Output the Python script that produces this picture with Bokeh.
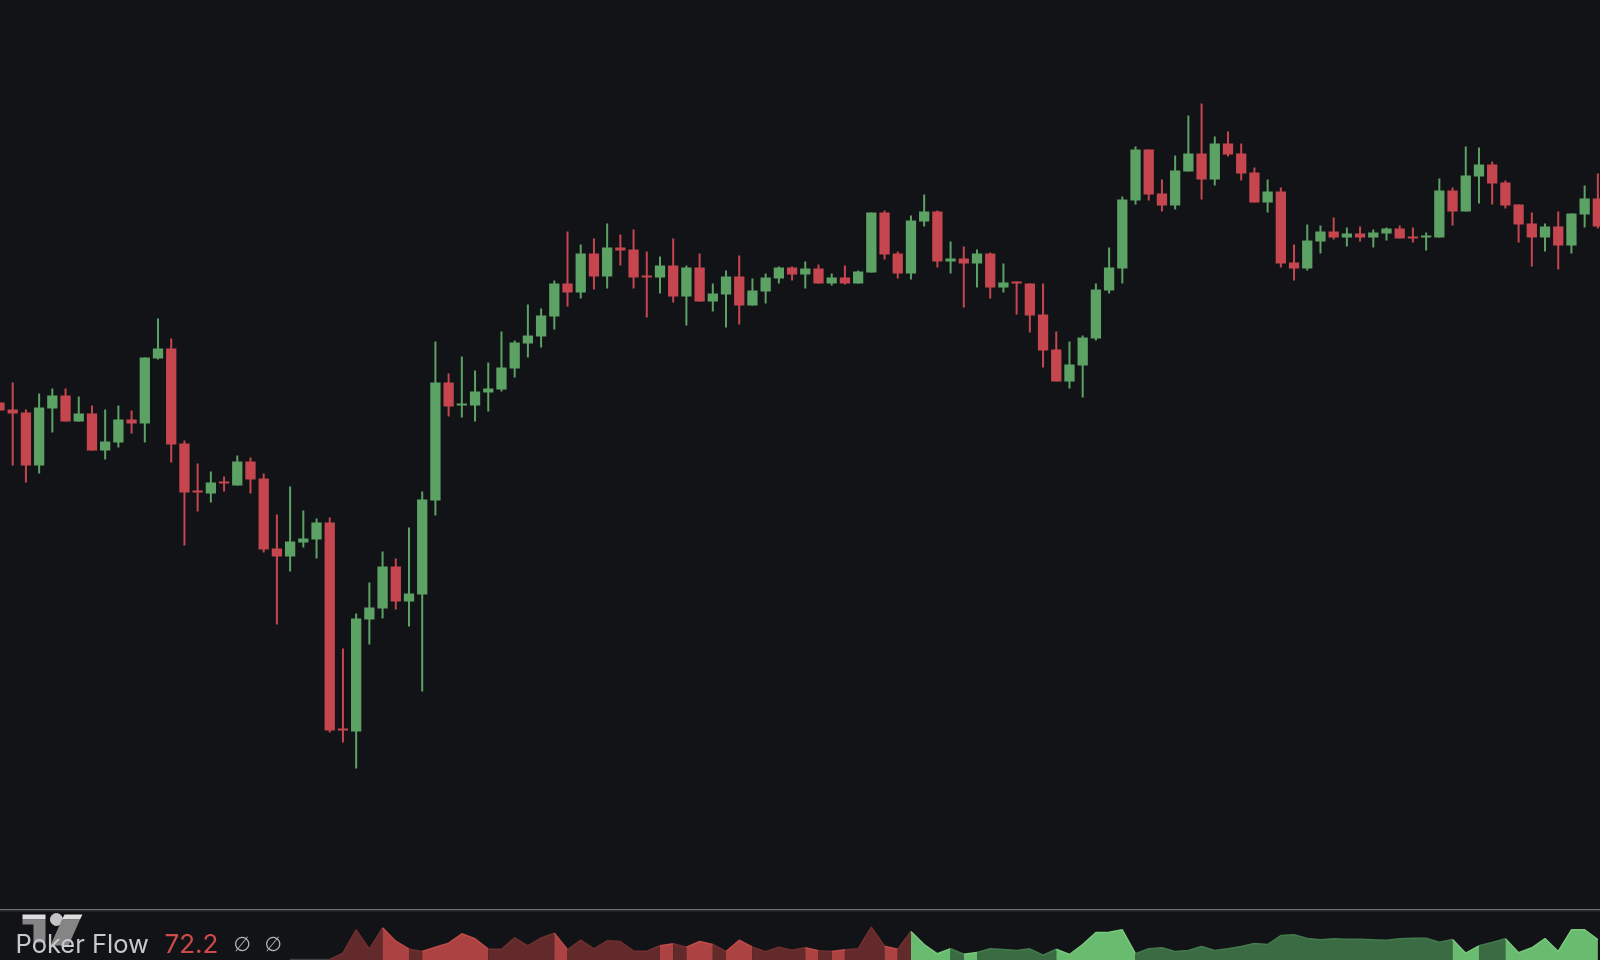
from bokeh.embed import file_html
from bokeh.layouts import column
from bokeh.models import ColumnDataSource, Label, PolyAnnotation, Range1d, Span
from bokeh.plotting import figure
from bokeh.resources import INLINE

opens = [598, 591, 588, 535, 592, 605, 579, 587, 550, 558, 581, 577, 642, 652, 557, 510, 507, 519, 515, 539,
         522, 452, 444, 458, 461, 478, 272, 269, 381, 392, 434, 399, 406, 500, 618, 595, 595, 608, 611, 632,
         657, 664, 684, 717, 708, 747, 724, 753, 751, 725, 723, 735, 704, 733, 699, 706, 724, 695, 709, 722,
         733, 726, 732, 717, 723, 717, 728, 788, 747, 727, 779, 789, 739, 742, 737, 747, 713, 719, 717, 686,
         651, 619, 635, 662, 710, 732, 800, 851, 807, 795, 829, 847, 821, 857, 847, 828, 798, 809, 738, 732,
         759, 769, 763, 767, 763, 767, 772, 764, 763, 763, 810, 789, 824, 836, 818, 796, 777, 763, 774, 755,
         786, 802]
highs = [598, 618, 591, 607, 612, 612, 604, 595, 591, 595, 590, 643, 682, 662, 560, 537, 529, 524, 545, 543,
         527, 486, 514, 490, 482, 483, 352, 387, 418, 449, 442, 473, 509, 659, 627, 644, 630, 638, 669, 660,
         696, 692, 720, 769, 756, 762, 777, 766, 771, 749, 744, 762, 735, 747, 717, 730, 745, 722, 727, 734,
         734, 739, 736, 727, 735, 730, 788, 790, 749, 785, 806, 790, 759, 754, 751, 748, 737, 719, 717, 717,
         669, 659, 665, 717, 753, 804, 854, 851, 821, 845, 885, 897, 864, 869, 857, 833, 821, 813, 756, 776,
         775, 783, 773, 774, 771, 773, 775, 773, 768, 822, 813, 854, 853, 839, 820, 796, 788, 777, 789, 787,
         815, 827]
lows = [590, 535, 518, 527, 568, 579, 579, 550, 541, 553, 567, 558, 641, 538, 455, 489, 498, 509, 515, 507,
        448, 376, 429, 453, 442, 268, 258, 232, 356, 382, 391, 374, 309, 485, 584, 583, 579, 589, 609, 623,
        643, 653, 671, 694, 702, 711, 712, 735, 712, 683, 707, 698, 675, 699, 689, 673, 676, 695, 697, 717,
        720, 712, 717, 715, 716, 717, 728, 741, 722, 721, 774, 733, 727, 693, 713, 702, 708, 686, 668, 633,
        619, 612, 603, 660, 707, 717, 796, 800, 789, 791, 829, 801, 815, 844, 820, 798, 788, 733, 720, 730,
        747, 761, 754, 759, 753, 760, 762, 758, 750, 763, 775, 789, 797, 796, 792, 758, 734, 749, 731, 747,
        773, 772]
closes = [590, 587, 535, 593, 605, 579, 587, 550, 559, 581, 577, 643, 652, 556, 508, 508, 518, 517, 539, 521,
          451, 444, 459, 462, 478, 270, 270, 382, 393, 434, 399, 407, 501, 618, 594, 597, 609, 612, 633, 658,
          665, 685, 717, 708, 747, 724, 753, 750, 723, 723, 735, 704, 733, 699, 707, 724, 695, 710, 723, 733,
          726, 732, 717, 723, 717, 729, 788, 746, 727, 780, 789, 739, 742, 737, 747, 713, 718, 717, 685, 650,
          619, 636, 663, 711, 733, 801, 851, 806, 795, 830, 847, 821, 857, 846, 827, 798, 809, 737, 732, 760,
          769, 763, 767, 763, 768, 772, 762, 762, 765, 810, 789, 825, 836, 817, 795, 776, 763, 774, 755, 787,
          802, 774]

flow_bars = list(range(22, 122))
flow_values = [1, 1, 1, 1, 7.3, 30.7, 11.3, 32.7, 19.3, 11.3, 9, 13.3, 17.3, 26.7, 21.7, 11.3, 11.3, 22.7, 14.7, 22.5,
               27.3, 10.7, 20.3, 11.7, 19.7, 19, 9.3, 9.3, 14.7, 16.7, 13.3, 19, 16, 9, 20.3, 13.3, 8.7, 13.3, 10.3, 12.7,
               9.7, 9, 10.7, 11.7, 33.3, 14.3, 11.3, 29, 16, 6.7, 11.7, 6.3, 8, 11.7, 11, 10, 11.7, 5.3, 11.3, 6,
               16, 28, 28.3, 30.7, 6.7, 11.7, 12.7, 9, 10, 14, 10, 11.7, 14, 17, 16, 25, 25.7, 22, 20.7, 21.7,
               21.3, 21.3, 20.7, 20.3, 21.7, 22.3, 22.3, 18.3, 21, 7.3, 14.7, 18, 21.7, 7.7, 12.7, 22, 9, 30.7, 30.7, 21]
# start bar, end bar, kind of each stretch of the indicator
flow_runs = [(22, 25, "none"), (25, 29, "red_dark"), (29, 31, "red"), (31, 32, "red_dark"), (32, 37, "red"),
             (37, 42, "red_dark"), (42, 43, "red"), (43, 50, "red_dark"), (50, 51, "red"), (51, 52, "red_dark"),
             (52, 54, "red"), (54, 55, "red_dark"), (55, 57, "red"), (57, 61, "red_dark"), (61, 62, "red"),
             (62, 63, "red_dark"), (63, 64, "red"), (64, 67, "red_dark"), (67, 68, "red"), (68, 69, "red_dark"),
             (69, 72, "green"), (72, 73, "green_dark"), (73, 74, "green"), (74, 80, "green_dark"), (80, 86, "green"),
             (86, 110, "green_dark"), (110, 112, "green"), (112, 114, "green_dark"), (114, 121, "green")]
flow_fill = {"none": "#2a2b2e", "red": "#ad4242", "red_dark": "#622a2b", "green": "#69bb6f", "green_dark": "#3a6b43"}
flow_line = {"none": "#3f4043", "red": "#c04b49", "red_dark": "#712f30", "green": "#78c97d", "green_dark": "#437a4c"}

BACKGROUND = "#121317"
UP = "#5ba264"
DOWN = "#c5464f"

bars = list(range(len(opens)))
colors = [UP if c >= o else DOWN for o, c in zip(opens, closes)]
source = ColumnDataSource(data=dict(
    bar=bars,
    low=lows,
    high=highs,
    body_top=[max(o, c) for o, c in zip(opens, closes)],
    body_bottom=[min(o, c) for o, c in zip(opens, closes)],
    color=colors,
))

x_range = Range1d(0, 121.2)

p = figure(width=1601, height=910, x_range=x_range, y_range=(91, 1001), output_backend="svg", toolbar_location=None,
           min_border=0, background_fill_color=BACKGROUND, border_fill_color=BACKGROUND, outline_line_color=None)
p.xaxis.visible = False
p.yaxis.visible = False
p.xgrid.grid_line_color = None
p.ygrid.grid_line_color = None
p.segment(x0="bar", y0="low", x1="bar", y1="high", color="color", line_width=2, source=source)
p.vbar(x="bar", width=0.78, bottom="body_bottom", top="body_top", fill_color="color", line_color=None, source=source)

flow = figure(width=1601, height=51, x_range=x_range, y_range=(0, 51), output_backend="svg", toolbar_location=None,
              min_border=0, background_fill_color=BACKGROUND, border_fill_color=BACKGROUND, outline_line_color=None)
flow.xaxis.visible = False
flow.yaxis.visible = False
flow.xgrid.grid_line_color = None
flow.ygrid.grid_line_color = None
flow.add_layout(Span(location=50, dimension="width", line_color="#2b2c2f", line_width=2))

# logo sits behind the legend, canvas pixels measured from the pane's top left
for xs, ys, shade in [
    ([23, 46, 46, 23], [5, 5, 10, 10], "#dcdcdc"),
    ([23, 46, 46, 34, 34, 23], [10, 10, 33, 33, 15, 15], "#858585"),
    ([65, 83, 80.5, 62.5], [5, 5, 10, 10], "#dcdcdc"),
    ([62.5, 80.5, 69, 51], [10, 10, 36, 36], "#858585"),
]:
    flow.add_layout(PolyAnnotation(xs=xs, ys=ys, xs_units="canvas", ys_units="canvas", fill_color=shade,
                                   fill_alpha=1, line_color=None, level="underlay"))
flow.scatter(x=[4.31], y=[41], size=12, marker="circle", color="#c4c4c4", level="underlay")

for start, end, kind in flow_runs:
    xs = flow_bars[start - 22:end - 21]
    ys = flow_values[start - 22:end - 21]
    flow.varea(x=xs, y1=[0] * len(xs), y2=ys, fill_color=flow_fill[kind])
    flow.line(x=xs, y=ys, line_color=flow_line[kind], line_width=1.5)

for text, left, font, size, shade in [
    ("Poker Flow", 16, "Inter", "25.5px", "#c8c9cb"),
    ("72.2", 165, "Inter", "26px", "#cf4a4a"),
    ("∅", 234, "DejaVu Sans", "20px", "#b4b5b7"),
    ("∅", 265, "DejaVu Sans", "20px", "#b4b5b7"),
]:
    flow.add_layout(Label(x=left, y=17, x_units="screen", y_units="screen", text=text, text_font=font,
                          text_font_size=size, text_color=shade, text_baseline="alphabetic"))

layout = column(p, flow, styles={"position": "fixed", "left": "-1px", "top": "-1px"})

open("out.html", "w").write(file_html(layout, INLINE))
